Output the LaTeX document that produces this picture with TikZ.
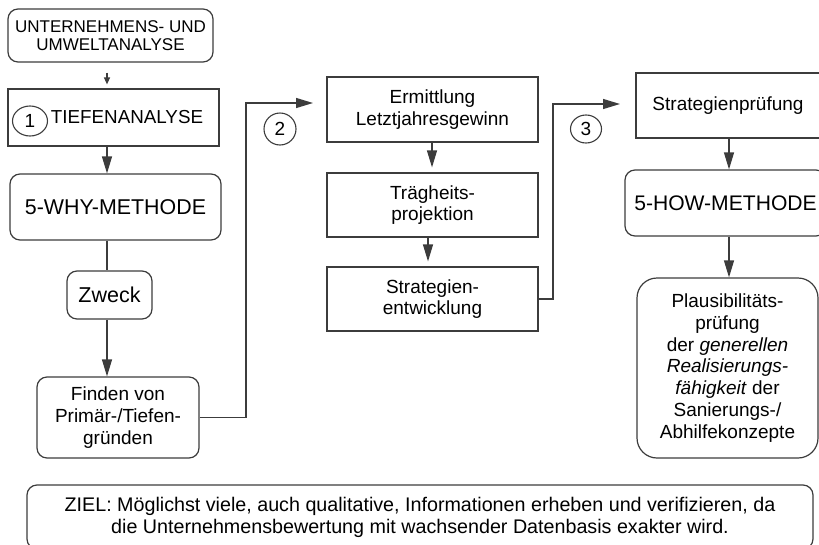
\documentclass[tikz,border=0pt]{standalone}
\usepackage{fontspec}
\setmainfont{Liberation Sans}
\usetikzlibrary{arrows.meta,shapes.geometric}
\definecolor{ln}{RGB}{60,60,60}
\newcommand{\myfs}[2]{\fontsize{#1}{#2}\selectfont}
\begin{document}
\begin{tikzpicture}[x=1pt,y=-1pt,
  box/.style={draw=ln, line width=1.2pt, inner sep=0pt, align=center, text=black},
  rbox/.style={box, rounded corners=10pt},
  arr/.style={draw=ln, line width=1.2pt, -{Triangle[length=17pt,width=10pt]}},
  plain/.style={draw=ln, line width=1.2pt},
  num/.style={draw=ln, line width=1.1pt, ellipse, inner sep=0pt, font=\myfs{19}{21}},
  body/.style={font=\myfs{19}{21.7}}]
\useasboundingbox (0,0) rectangle (819,544);
\clip (0,0) rectangle (819,544);

% left column
\node[rbox, minimum width=205pt, minimum height=53pt, font=\myfs{17}{18.5}] (unt) at (110.5,35.5) {UNTERNEHMENS- UND\\UMWELTANALYSE};
\node[box, minimum width=211pt, minimum height=57pt, font=\myfs{18.8}{21}] (tief) at (113.5,117.5) {\hspace*{27pt}TIEFENANALYSE};
\node[num, minimum width=35pt, minimum height=30pt] (n1) at (30,121) {1};
\node[rbox, minimum width=211pt, minimum height=66pt, font=\myfs{21.4}{24}] (why) at (115.5,207) {5-WHY-METHODE};
\node[rbox, minimum width=85pt, minimum height=48pt, font=\myfs{21.5}{24}] (zweck) at (109.5,295) {Zweck};
\node[rbox, body, minimum width=162pt, minimum height=81pt] (finden) at (118,417.5) {Finden von\\Primär-/Tiefen-\\gründen};

% middle column
\node[box, body, minimum width=211pt, minimum height=65pt] (ermitt) at (432.5,109.5) {Ermittlung\\Letztjahresgewinn};
\node[box, body, minimum width=211pt, minimum height=64pt] (traeg) at (432.5,205) {Trägheits-\\projektion};
\node[box, body, minimum width=211pt, minimum height=64pt] (strat) at (432.5,299) {Strategien-\\entwicklung};
\node[num, minimum size=32pt] (n2) at (280,129) {2};

% right column
\node[box, body, minimum width=184pt, minimum height=65pt] (spruef) at (728,105.5) {Strategienprüfung};
\node[rbox, minimum width=201pt, minimum height=66pt, font=\myfs{21.1}{24}] (how) at (725.5,203) {5-HOW-METHODE};
\node[box, body, rounded corners=20pt, minimum width=181pt, minimum height=180pt] (plaus) at (727.5,368) {Plausibilitäts-\\prüfung\\der \textit{generellen}\\\textit{Realisierungs-}\\\textit{fähigkeit} der\\Sanierungs-/\\Abhilfekonzepte};
\node[num, minimum width=31pt, minimum height=28pt] (n3) at (586,129) {3};

% goal
\node[rbox, minimum width=786pt, minimum height=64pt, font=\myfs{19.7}{22}] (ziel) at (420,517) {ZIEL: Möglichst viele, auch qualitative, Informationen erheben und verifizieren, da\\die Unternehmensbewertung mit wachsender Datenbasis exakter wird.};

% connectors
\coordinate (cA) at (107,0);
\draw[arr, shorten <=10pt, shorten >=4pt, -{Triangle[length=7pt,width=6pt]}] (unt.south -| cA) -- (tief.north -| cA);
\draw[arr] (tief.south -| cA) -- (why.north -| cA);
\draw[plain] (why.south -| cA) -- (zweck.north -| cA);
\draw[arr] (zweck.south -| cA) -- (finden.north -| cA);
\coordinate (k2) at (246,103);
\coordinate (t2) at (313,103);
\draw[arr] (finden.east) -| (k2) -- (t2);

\coordinate (cB1) at (432,0);
\coordinate (cB2) at (428,0);
\draw[arr, shorten >=5pt] (ermitt.south -| cB1) -- (traeg.north -| cB1);
\draw[arr, shorten >=5pt] (traeg.south -| cB2) -- (strat.north -| cB2);
\coordinate (k3) at (553,104);
\coordinate (t3) at (620,104);
\draw[arr] (strat.east) -| (k3) -- (t3);

\coordinate (cC) at (729,0);
\draw[arr] (spruef.south -| cC) -- (how.north -| cC);
\draw[arr] (how.south -| cC) -- (plaus.north -| cC);
\end{tikzpicture}
\end{document}
